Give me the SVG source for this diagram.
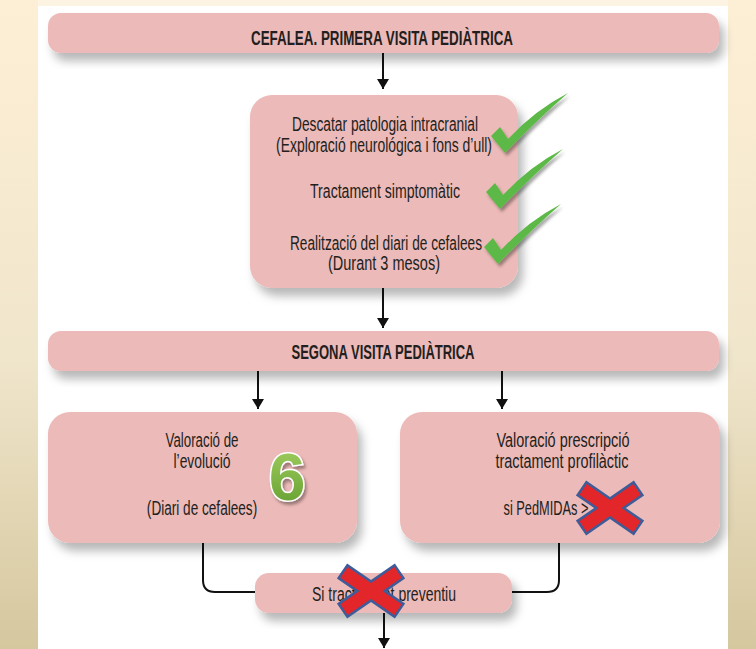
<svg xmlns="http://www.w3.org/2000/svg" width="756" height="649" viewBox="0 0 756 649">
  <defs>
    <linearGradient id="side" x1="0" y1="0" x2="0" y2="1">
      <stop offset="0" stop-color="#fdefd6"/>
      <stop offset="0.55" stop-color="#f0e6cc"/>
      <stop offset="1" stop-color="#d5c79e"/>
    </linearGradient>
    <linearGradient id="six" x1="0" y1="0" x2="0" y2="1">
      <stop offset="0" stop-color="#a6d064"/>
      <stop offset="1" stop-color="#5f9c2c"/>
    </linearGradient>
    <filter id="boxShadow" x="-10%" y="-20%" width="125%" height="160%">
      <feDropShadow dx="5" dy="8" stdDeviation="5" flood-color="#000" flood-opacity="0.28"/>
    </filter>
    <filter id="smallShadow" x="-30%" y="-30%" width="160%" height="160%">
      <feDropShadow dx="2" dy="3" stdDeviation="1.5" flood-color="#000" flood-opacity="0.35"/>
    </filter>
    <marker id="arrow" viewBox="0 0 10 12" refX="10" refY="6" markerWidth="10" markerHeight="12" markerUnits="userSpaceOnUse" orient="auto">
      <path d="M0,0 L10,6 L0,12 Z" fill="#111"/>
    </marker>
    <!-- check mark, origin at the bottom vertex -->
    <path id="tick" d="M0,1 L-14,-16 L-5,-25 L3,-13 Q30,-42 63,-59 Q32,-32 0,1 Z"/>
    <!-- cross mark, drawn as outline + fill strokes -->
    <g id="cross">
      <path d="M-29,-20 L29,20 M29,-20 L-29,20" stroke="#3e5c99" stroke-width="18" fill="none"/>
      <path d="M-27,-18.6 L27,18.6 M27,-18.6 L-27,18.6" stroke="#e3262a" stroke-width="13" fill="none"/>
    </g>
    <style>
      .box { fill: #ecbab8; filter: url(#boxShadow); }
      .t { font-family: "Liberation Sans", Arial, sans-serif; fill: #231f20; text-anchor: middle; }
      .hd { font-weight: bold; font-size: 21px; }
      .bd { font-size: 20px; }
      .conn { fill: none; stroke: #111; stroke-width: 2; }
      .tick { fill: #5cb946; filter: url(#smallShadow); }
    </style>
  </defs>

  <!-- page background -->
  <rect x="0" y="0" width="756" height="649" fill="#ffffff"/>
  <rect x="0" y="0" width="756" height="6" fill="#fdf3e2"/>
  <rect x="0" y="0" width="38" height="649" fill="url(#side)"/>
  <rect x="728" y="0" width="28" height="649" fill="url(#side)"/>

  <g id="connectors">
    <path class="conn" d="M383,53 V89" marker-end="url(#arrow)"/>
    <path class="conn" d="M383,288 V328" marker-end="url(#arrow)"/>
    <path class="conn" d="M258,371 V409" marker-end="url(#arrow)"/>
    <path class="conn" d="M502,371 V409" marker-end="url(#arrow)"/>
    <path class="conn" d="M203,543 V580 Q203,592 215,592 H256"/>
    <path class="conn" d="M559,543 V580 Q559,592 547,592 H511"/>
    <path class="conn" d="M384,613 V648" marker-end="url(#arrow)"/>
  </g>

  <g id="visita1">
    <rect class="box" x="48" y="13" width="671" height="40" rx="13"/>
    <text class="t hd" x="382" y="45" textLength="262" lengthAdjust="spacingAndGlyphs">CEFALEA. PRIMERA VISITA PEDIÀTRICA</text>
  </g>

  <g id="actuacions">
    <rect class="box" x="250" y="95" width="268" height="193" rx="22"/>
    <text class="t bd" x="385" y="131" textLength="186" lengthAdjust="spacingAndGlyphs">Descatar patologia intracranial</text>
    <text class="t bd" x="384" y="152" textLength="216" lengthAdjust="spacingAndGlyphs">(Exploració neurológica i fons d’ull)</text>
    <text class="t bd" x="385" y="198" textLength="150" lengthAdjust="spacingAndGlyphs">Tractament simptomàtic</text>
    <text class="t bd" x="386" y="250" textLength="192" lengthAdjust="spacingAndGlyphs">Realització del diari de cefalees</text>
    <text class="t bd" x="384" y="270" textLength="112" lengthAdjust="spacingAndGlyphs">(Durant 3 mesos)</text>
    <use href="#tick" class="tick" x="505" y="152"/>
    <use href="#tick" class="tick" x="500" y="208"/>
    <use href="#tick" class="tick" x="498" y="263"/>
  </g>

  <g id="visita2">
    <rect class="box" x="48" y="331" width="671" height="40" rx="13"/>
    <text class="t hd" x="383" y="359" textLength="183" lengthAdjust="spacingAndGlyphs">SEGONA VISITA PEDIÀTRICA</text>
  </g>

  <g id="evolucio">
    <rect class="box" x="48" y="412" width="309" height="131" rx="22"/>
    <text class="t bd" x="202" y="447" textLength="73" lengthAdjust="spacingAndGlyphs">Valoració de</text>
    <text class="t bd" x="202" y="468" textLength="57" lengthAdjust="spacingAndGlyphs">l’evolució</text>
    <text class="t bd" transform="translate(202,515) scale(0.68,1)" x="0" y="0">(Diari de cefalees)</text>
    <text x="287" y="500" font-family="'Liberation Sans', Arial, sans-serif" font-weight="bold" font-size="66" text-anchor="middle" fill="url(#six)" stroke="#ffffff" stroke-width="3" paint-order="stroke" filter="url(#smallShadow)">6</text>
  </g>

  <g id="profilaxi">
    <rect class="box" x="400" y="412" width="320" height="131" rx="22"/>
    <text class="t bd" x="563" y="447" textLength="133" lengthAdjust="spacingAndGlyphs">Valoració prescripció</text>
    <text class="t bd" x="562" y="468" textLength="133" lengthAdjust="spacingAndGlyphs">tractament profilàctic</text>
    <text class="t bd" x="546" y="515" textLength="85" lengthAdjust="spacingAndGlyphs">si PedMIDAs &gt;</text>
    <use href="#cross" x="610" y="508"/>
  </g>

  <g id="preventiu">
    <rect class="box" x="255" y="573" width="257" height="40" rx="14"/>
    <text class="t bd" x="384" y="601" textLength="144" lengthAdjust="spacingAndGlyphs">Si tractament preventiu</text>
    <use href="#cross" x="371" y="591"/>
  </g>
</svg>
